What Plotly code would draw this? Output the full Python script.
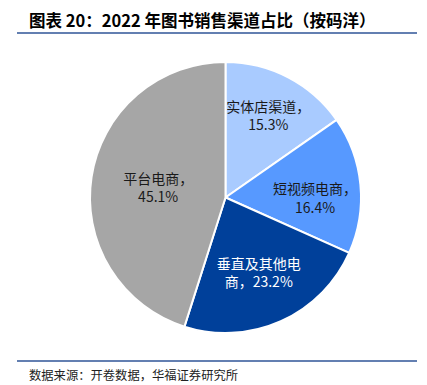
import plotly.graph_objects as go

categories = ["实体店渠道", "短视频电商", "垂直及其他电商", "平台电商"]
values = [15.3, 16.4, 23.2, 45.1]
# label display forms (line wrapping as in the source chart)
label_lines = ["实体店渠道，<br>", "短视频电商，<br>", "垂直及其他电<br>商，", "平台电商，<br>"]
colors = ["#A9CBFF", "#5799FF", "#00409A", "#A6A6A6"]
text_colors = ["#1a1a1a", "#1a1a1a", "#ffffff", "#1a1a1a"]

texts = [f"{l}{v:.1f}%" for l, v in zip(label_lines, values)]

title_text = "图表 20：2022 年图书销售渠道占比（按码洋）"
source_text = "数据来源：开卷数据，华福证券研究所"

# page has an 8px body margin; map reference pixel -> figure pixel
OFF = 8
W, H = 427 - OFF, 385 - OFF


def px(x):
    return (x - OFF) / W


def py(y):
    return 1 - (y - OFF) / H


fig = go.Figure(go.Pie(
    labels=categories,
    values=values,
    text=texts,
    textinfo="text",
    textposition="inside",
    insidetextorientation="horizontal",
    sort=False,
    direction="clockwise",
    rotation=0,
    marker=dict(colors=colors, line=dict(color="white", width=2)),
    textfont=dict(color=text_colors, size=14, family="Noto Sans CJK SC"),
    domain=dict(x=[px(90), px(361)], y=[py(333), py(62)]),
    showlegend=False,
    hoverinfo="label+value",
))

fig.update_layout(
    width=W, height=H,
    margin=dict(l=0, r=0, t=0, b=0),
    paper_bgcolor="white",
    plot_bgcolor="white",
    font=dict(family="Noto Sans CJK SC"),
    uniformtext=dict(minsize=13.5, mode="show"),
    shapes=[
        dict(type="line", xref="paper", yref="paper", x0=px(17), x1=px(417),
             y0=py(33), y1=py(33), line=dict(color="#2F5597", width=1.5)),
        dict(type="line", xref="paper", yref="paper", x0=px(17), x1=px(417),
             y0=py(361), y1=py(361), line=dict(color="#2F5597", width=1.5)),
    ],
    annotations=[
        dict(text=title_text, xref="paper", yref="paper",
             x=px(27), y=py(20), xanchor="left", yanchor="middle", showarrow=False,
             font=dict(size=16.5, color="#000000", family="Noto Sans CJK SC", weight=700)),
        dict(text=source_text, xref="paper", yref="paper",
             x=px(27), y=py(375), xanchor="left", yanchor="middle", showarrow=False,
             font=dict(size=12.3, color="#222222", family="Noto Sans CJK SC")),
    ],
)

fig.write_html("out.html")
